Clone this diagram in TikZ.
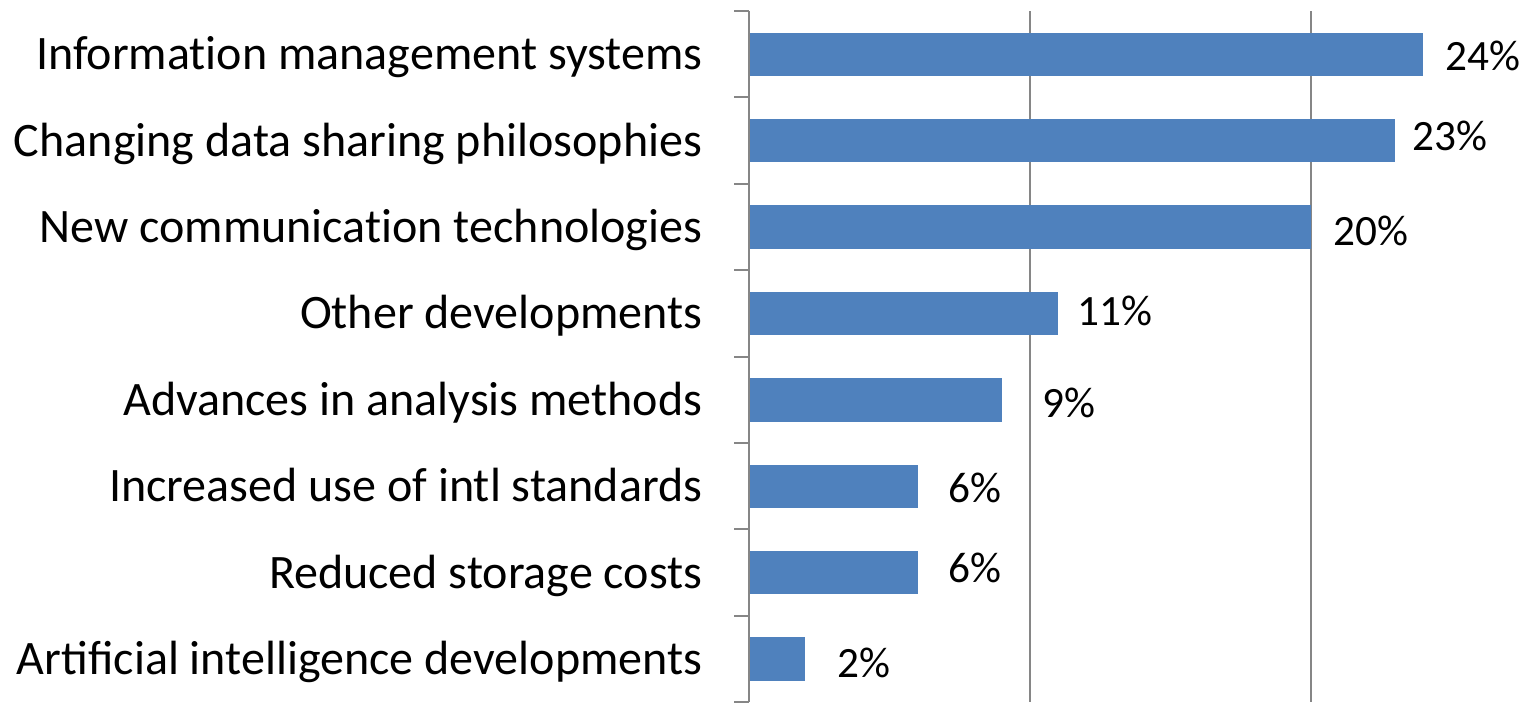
\documentclass[tikz,border=0pt]{standalone}
\usepackage{fontspec}
\setmainfont{Carlito}
\definecolor{barblue}{RGB}{79,129,189}
\definecolor{axisgray}{RGB}{134,134,134}
\newcommand{\drawaxis}{\draw[axisgray, line width=0.6pt]}
\newcommand{\catfont}{\fontsize{13.66pt}{16pt}\selectfont}
\newcommand{\valfont}{\fontsize{12.3pt}{15pt}\selectfont}
% break the t-i ligature of Carlito
\newcommand{\tisplit}{t\kern0pt i}

\begin{document}
\begin{tikzpicture}[x=0.01cm, y=-0.01cm,
  catlabel/.style={anchor=base east, inner sep=0pt, font=\catfont},
  vallabel/.style={anchor=base west, inner sep=0pt, font=\valfont}]
\useasboundingbox (0,0) rectangle (1526,702);
% gridlines at 10% and 20%
\foreach \g in {10,20}{
  \drawaxis (749+28.1*\g,11)--(749+28.1*\g,702);
}
% bars, category names, values
\foreach \val/\lx/\ly/\txt [count=\i] in {
    24/1445/70/Informa\tisplit on management systems,
    23/1412/150/Changing data sharing philosophies,
    20/1333/245/New communica\tisplit on technologies,
    11/1077/325/Other developments,
    9/1042/417/Advances in analysis methods,
    6/948/502/Increased use of intl standards,
    6/948/582/Reduced storage costs,
    2/837/677/Artificial intelligence developments}{
  \fill[barblue] (749,{11+86.4*(\i-0.5)-21.7}) rectangle ++(28.1*\val,43.4);
  \node[catlabel] (cat\i) at (703,{11+86.4*(\i-0.5)+15.5}) {\txt};
  \node[vallabel] (val\i) at (\lx,\ly) {\val\%};
}
% axis and ticks
\drawaxis (749,11)--(749,702);
\foreach \t in {0,...,8}{
  \drawaxis (734,{11+86.4*\t})--(749,{11+86.4*\t});
}
\end{tikzpicture}
\end{document}
